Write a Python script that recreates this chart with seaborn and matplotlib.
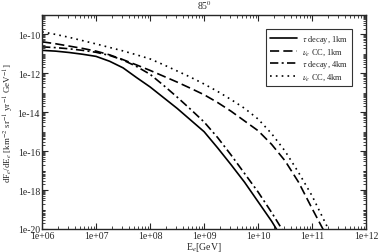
import numpy as np
import pandas as pd
import seaborn as sns
import matplotlib.pyplot as plt
from matplotlib.ticker import LogLocator, FuncFormatter, NullFormatter

# log10(E / GeV) and log10(flux)
tau_1km_x = [6.0, 6.25, 6.5, 6.75, 7.0, 7.25, 7.5, 7.75, 8.0, 8.25, 8.5, 8.75, 9.0,
             9.25, 9.5, 9.75, 10.0, 10.25, 10.45]
tau_1km_y = [-10.82, -10.86, -10.93, -11.02, -11.13, -11.38, -11.72, -12.22, -12.7, -13.25,
             -13.8, -14.4, -15.0, -15.83, -16.7, -17.6, -18.6, -19.6, -20.5]

nue_1km_x = [6.0, 6.25, 6.5, 6.75, 7.0, 7.25, 7.5, 7.75, 8.0, 8.25, 8.5, 8.75, 9.0,
             9.25, 9.5, 9.75, 10.0, 10.25, 10.5, 10.75, 11.0, 11.2, 11.3]
nue_1km_y = [-10.38, -10.48, -10.6, -10.72, -10.86, -11.05, -11.3, -11.57, -11.85, -12.15,
             -12.45, -12.77, -13.1, -13.5, -13.95, -14.45, -14.95, -15.65, -16.5, -17.6,
             -18.95, -20.0, -20.5]

tau_4km_x = [6.0, 6.25, 6.5, 6.75, 7.0, 7.25, 7.5, 7.75, 8.0, 8.25, 8.5, 8.75, 9.0,
             9.25, 9.5, 9.75, 10.0, 10.25, 10.44, 10.55]
tau_4km_y = [-10.64, -10.68, -10.74, -10.82, -10.92, -11.08, -11.32, -11.65, -12.05, -12.62,
             -13.22, -13.85, -14.5, -15.3, -16.2, -17.15, -18.1, -19.15, -20.0, -20.5]

nue_4km_x = [6.0, 6.25, 6.5, 6.75, 7.0, 7.25, 7.5, 7.75, 8.0, 8.25, 8.5, 8.75, 9.0,
             9.25, 9.5, 9.75, 10.0, 10.25, 10.5, 10.75, 11.0, 11.3, 11.4]
nue_4km_y = [-9.87, -10.0, -10.15, -10.32, -10.49, -10.67, -10.85, -11.05, -11.26, -11.56,
             -11.88, -12.2, -12.55, -12.93, -13.35, -13.8, -14.35, -15.1, -16.0, -17.1,
             -18.3, -20.0, -20.6]

labels = [r"$\tau$ decay, 1km", r"$\nu_e$ CC, 1km", r"$\tau$ decay, 4km", r"$\nu_e$ CC, 4km"]
series = [(tau_1km_x, tau_1km_y), (nue_1km_x, nue_1km_y),
          (tau_4km_x, tau_4km_y), (nue_4km_x, nue_4km_y)]

rows = []
for lab, (xs, ys) in zip(labels, series):
    for a, b in zip(xs, ys):
        rows.append([lab, 10.0 ** a, 10.0 ** b])
df = pd.DataFrame(rows, columns=["series", "E", "flux"])

sns.set_style("ticks")
plt.rcParams['font.family'] = ['Liberation Serif', 'DejaVu Serif']
plt.rcParams['mathtext.fontset'] = 'stix'

fig = plt.figure(figsize=(3.79, 2.53), dpi=100)
ax = fig.add_axes([0.111, 0.091, 0.855, 0.846])

dashes = {labels[0]: "", labels[1]: (5.5, 2.5), labels[2]: (5, 2, 1.2, 2), labels[3]: (1, 2.5)}
sns.lineplot(data=df, x="E", y="flux", hue="series", style="series",
             palette=["black"] * 4, dashes=dashes, linewidth=1.2,
             estimator=None, sort=False, ax=ax)

ax.set_xscale("log")
ax.set_yscale("log")
ax.set_xlim(1e6, 1e12)
ax.set_ylim(1e-20, 1e-9)

ax.xaxis.set_major_locator(LogLocator(base=10, numticks=20))
ax.xaxis.set_minor_locator(LogLocator(base=10, subs=np.arange(2, 10), numticks=100))
ax.yaxis.set_major_locator(LogLocator(base=100, numticks=20))
ax.yaxis.set_minor_locator(LogLocator(base=10, subs=np.arange(1, 10), numticks=100))
fmt = FuncFormatter(lambda v, p: f"{v:.0e}")
ax.xaxis.set_major_formatter(fmt)
ax.yaxis.set_major_formatter(fmt)
ax.xaxis.set_minor_formatter(NullFormatter())
ax.yaxis.set_minor_formatter(NullFormatter())
ax.tick_params(which="both", direction="in", top=True, right=True, labelsize=7, pad=1.5)
ax.tick_params(which="major", length=4, width=0.8)
ax.tick_params(which="minor", length=2, width=0.6)
for s in ax.spines.values():
    s.set_linewidth(1.0)

ax.set_xlabel(r"E$_e$[GeV]", fontsize=7, labelpad=0)
ax.set_ylabel(r"dF$_e$/dE$_e$ [km$^{-2}$ sr$^{-1}$ yr$^{-1}$ GeV$^{-1}$]", fontsize=6.5, labelpad=1)
ax.set_title(r"85$^0$", fontsize=7, pad=4)

leg = ax.legend(loc="upper right", bbox_to_anchor=(0.957, 0.935), fontsize=6,
                frameon=True, fancybox=False, edgecolor="black", handlelength=3.3,
                borderpad=0.45, labelspacing=0.2, handletextpad=0.6, borderaxespad=0)
leg.get_frame().set_linewidth(0.8)

fig.savefig("out.png", dpi=100)
